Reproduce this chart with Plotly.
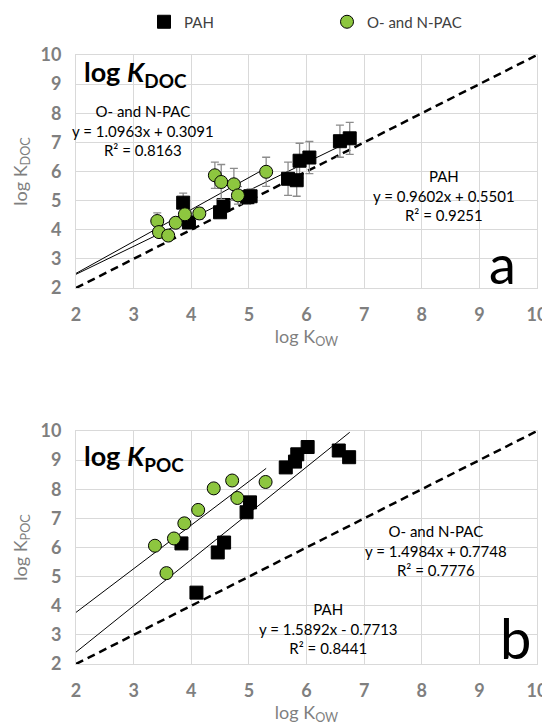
import plotly.graph_objects as go

# ---------------- data ----------------
# Panel a: log K_DOC vs log K_OW
pah_doc_x = [3.86, 3.96, 4.50, 4.56, 4.97, 5.03, 5.68, 5.83, 5.88, 6.05, 6.58, 6.75]
pah_doc_y = [4.93, 4.25, 4.60, 4.85, 5.12, 5.15, 5.75, 5.70, 6.37, 6.48, 7.04, 7.14]
pah_doc_err = [0.33, 0.20, 0.15, 0.20, 0.25, 0.25, 0.57, 0.55, 0.60, 0.55, 0.55, 0.55]

npac_doc_x = [3.41, 3.44, 3.60, 3.73, 3.89, 4.14, 4.41, 4.52, 4.74, 4.81, 5.30]
npac_doc_y = [4.30, 3.92, 3.80, 4.24, 4.53, 4.56, 5.87, 5.64, 5.56, 5.18, 5.99]
npac_doc_err = [0.28, 0.15, 0.12, 0.12, 0.15, 0.20, 0.45, 0.60, 0.55, 0.30, 0.50]

# Panel b: log K_POC vs log K_OW
pah_poc_x = [3.83, 4.09, 4.46, 4.57, 4.96, 5.02, 5.64, 5.80, 5.84, 6.02, 6.56, 6.74]
pah_poc_y = [6.14, 4.45, 5.83, 6.17, 7.21, 7.55, 8.75, 8.95, 9.20, 9.45, 9.33, 9.10]

npac_poc_x = [3.37, 3.57, 3.70, 3.88, 4.12, 4.39, 4.71, 4.80, 5.29]
npac_poc_y = [6.06, 5.12, 6.31, 6.83, 7.29, 8.03, 8.30, 7.70, 8.25]

# regression fits (slope, intercept) and x span of trendlines
fit_doc_pah = [0.9602, 0.5501]
fit_doc_npac = [1.0963, 0.3091]
fit_poc_pah = [1.5892, -0.7713]
fit_poc_npac = [1.4984, 0.7748]
trend_x_pah = [2, 6.75]
trend_x_npac = [2, 5.30]
one_to_one = [2, 10]

tick_vals = [2, 3, 4, 5, 6, 7, 8, 9, 10]
tick_text = ["2", "3", "4", "5", "6", "7", "8", "9", "10"]

# ---------------- styles ----------------
GREEN = "#8dc63f"
GRID = "#d9d9d9"
TICKC = "#7f7f7f"
FONT = "Lato"

fig = go.Figure()


def line_vals(fit, xs):
    return [fit[0] * x + fit[1] for x in xs]


def add_panel(xa, ya, pah_x, pah_y, npac_x, npac_y, fit_pah, fit_npac,
              pah_err=None, npac_err=None, legend=False):
    # 1:1 dashed line
    fig.add_trace(go.Scatter(x=one_to_one, y=one_to_one, mode="lines",
                             line=dict(color="black", width=2.5, dash="8px,5px"),
                             xaxis=xa, yaxis=ya, showlegend=False, hoverinfo="skip"))
    # trendlines
    fig.add_trace(go.Scatter(x=trend_x_pah, y=line_vals(fit_pah, trend_x_pah), mode="lines",
                             line=dict(color="black", width=1),
                             xaxis=xa, yaxis=ya, showlegend=False, hoverinfo="skip"))
    fig.add_trace(go.Scatter(x=trend_x_npac, y=line_vals(fit_npac, trend_x_npac), mode="lines",
                             line=dict(color="black", width=1),
                             xaxis=xa, yaxis=ya, showlegend=False, hoverinfo="skip"))
    eb_pah = dict(type="data", array=pah_err, color="#8c8c8c", thickness=1.3, width=4) if pah_err else None
    eb_npac = dict(type="data", array=npac_err, color="#8c8c8c", thickness=1.3, width=4) if npac_err else None
    fig.add_trace(go.Scatter(x=pah_x, y=pah_y, mode="markers", name="PAH",
                             marker=dict(symbol="square", size=13, color="black",
                                         line=dict(color="black", width=1)),
                             error_y=eb_pah, xaxis=xa, yaxis=ya, showlegend=legend))
    fig.add_trace(go.Scatter(x=npac_x, y=npac_y, mode="markers", name="O- and N-PAC",
                             marker=dict(symbol="circle", size=13, color=GREEN,
                                         line=dict(color="black", width=1)),
                             error_y=eb_npac, xaxis=xa, yaxis=ya, showlegend=legend))


add_panel("x", "y", pah_doc_x, pah_doc_y, npac_doc_x, npac_doc_y, fit_doc_pah, fit_doc_npac,
          pah_doc_err, npac_doc_err, legend=True)
add_panel("x2", "y2", pah_poc_x, pah_poc_y, npac_poc_x, npac_poc_y, fit_poc_pah, fit_poc_npac)

# page has an 8px body margin; size the figure so it fits in the 550x728 window
OFF = 8
W, H = 550 - OFF, 728 - OFF
xdom = [(76 - OFF) / W, (537 - OFF) / W]
ydom_a = [1 - (288 - OFF) / H, 1 - (55 - OFF) / H]
ydom_b = [1 - (664 - OFF) / H, 1 - (431 - OFF) / H]

axis_common = dict(range=[2, 10], tickmode="array", tickvals=tick_vals, ticktext=tick_text,
                   showgrid=True, gridcolor=GRID, gridwidth=1, zeroline=False,
                   showline=True, linecolor=GRID, linewidth=1, mirror=True, automargin=False,
                   ticks="", tickfont=dict(family=FONT, size=18, color=TICKC, weight="bold"),
                   ticklabelstandoff=10, fixedrange=True)

title_font = dict(family=FONT, size=18, color=TICKC)

fig.update_layout(
    width=W, height=H,
    margin=dict(l=0, r=0, t=0, b=0, autoexpand=False),
    paper_bgcolor="white", plot_bgcolor="white",
    xaxis=dict(domain=xdom, anchor="y",
               title=dict(text="log K<sub>OW</sub>", font=title_font, standoff=4), **axis_common),
    yaxis=dict(domain=ydom_a, anchor="x",
               title=dict(text="log K<sub>DOC</sub>", font=title_font, standoff=8), **axis_common),
    xaxis2=dict(domain=xdom, anchor="y2",
                title=dict(text="log K<sub>OW</sub>", font=title_font, standoff=4), **axis_common),
    yaxis2=dict(domain=ydom_b, anchor="x2",
                title=dict(text="log K<sub>POC</sub>", font=title_font, standoff=8), **axis_common),
    legend=dict(orientation="h", xref="container", yref="container",
                x=136 / W, xanchor="left", y=1 - 14 / H, yanchor="middle",
                font=dict(family=FONT, size=15, color="#404040"), entrywidth=138,
                bgcolor="rgba(0,0,0,0)"),
    showlegend=True,
)

ann_font = dict(family=FONT, size=15, color="black")
annotations = [
    # panel a
    dict(x=2.10, y=9.35, xref="x", yref="y", xanchor="left", yanchor="middle",
         text="<b>log <i>K</i><sub>DOC</sub></b>", font=dict(family=FONT, size=27, color="black"),
         showarrow=False),
    dict(x=3.16, y=7.42, xref="x", yref="y", xanchor="center", yanchor="middle",
         text="O- and N-PAC<br>y = 1.0963x + 0.3091<br>R² = 0.8163", font=ann_font,
         showarrow=False),
    dict(x=8.38, y=5.18, xref="x", yref="y", xanchor="center", yanchor="middle",
         text="PAH<br>y = 0.9602x + 0.5501<br>R² = 0.9251", font=ann_font, showarrow=False),
    dict(x=9.40, y=2.85, xref="x", yref="y", xanchor="center", yanchor="middle",
         text="a", font=dict(family=FONT, size=54, color="black"), showarrow=False),
    # panel b
    dict(x=2.10, y=9.08, xref="x2", yref="y2", xanchor="left", yanchor="middle",
         text="<b>log <i>K</i><sub>POC</sub></b>", font=dict(family=FONT, size=27, color="black"),
         showarrow=False),
    dict(x=8.25, y=5.89, xref="x2", yref="y2", xanchor="center", yanchor="middle",
         text="O- and N-PAC<br>y = 1.4984x + 0.7748<br>R² = 0.7776", font=ann_font,
         showarrow=False),
    dict(x=6.39, y=3.22, xref="x2", yref="y2", xanchor="center", yanchor="middle",
         text="PAH<br>y = 1.5892x - 0.7713<br>R² = 0.8441", font=ann_font, showarrow=False),
    dict(x=9.62, y=2.90, xref="x2", yref="y2", xanchor="center", yanchor="middle",
         text="b", font=dict(family=FONT, size=56, color="black"), showarrow=False),
]
fig.update_layout(annotations=annotations)

fig.write_html("out.html")
